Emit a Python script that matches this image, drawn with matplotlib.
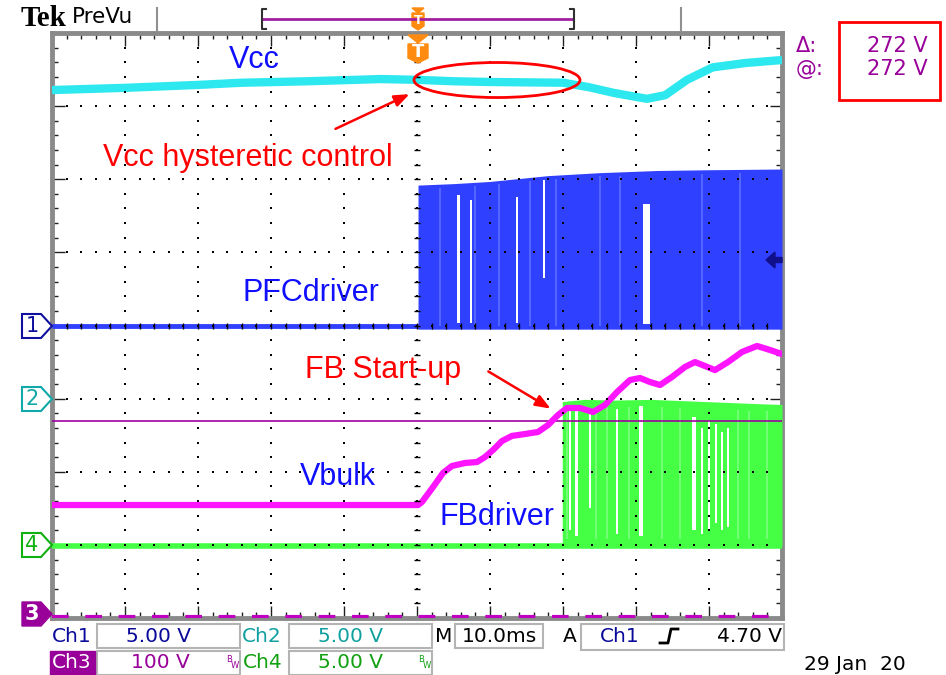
import matplotlib
matplotlib.use("Agg")
import matplotlib.pyplot as plt
from matplotlib.patches import Ellipse, Polygon, Rectangle
from matplotlib.lines import Line2D
import numpy as np

# ---------------- data (screen divisions: x 0..10, y 0..8) ----------------
vcc_t = [0.0, 1.0, 2.0, 2.6, 3.5, 4.5, 5.0, 5.5, 6.0, 7.0, 7.35, 7.7, 8.15, 8.4, 8.7, 9.05, 9.5, 10.0]
vcc_v = [7.22, 7.25, 7.29, 7.32, 7.34, 7.37, 7.36, 7.34, 7.33, 7.32, 7.26, 7.18, 7.10, 7.15, 7.36, 7.53, 7.59, 7.63]

pfc_base = 4.0
pfc_t = [5.014, 5.5, 6.0, 6.8, 7.5, 8.3, 9.0, 10.0]
pfc_top = [5.92, 5.94, 5.97, 6.05, 6.09, 6.12, 6.13, 6.14]
# gaps: centre, width, top, bottom
pfc_gap_x = [5.57, 5.74, 6.365, 6.735, 8.14]
pfc_gap_w = [0.035, 0.035, 0.025, 0.025, 0.09]
pfc_gap_top = [5.78, 5.72, 5.76, 5.99, 5.66]
pfc_gap_bot = [4.04, 4.04, 4.04, 4.65, 4.02]
pfc_streaks = [5.31, 5.79, 6.13, 6.55, 6.9, 7.5, 7.78, 8.9, 9.43]

vbulk_t = [0.0, 5.014, 5.068, 5.219, 5.356, 5.479, 5.658, 5.822, 5.93, 6.041, 6.164, 6.30,
           6.479, 6.658, 6.795, 6.932, 7.055, 7.233, 7.411, 7.575, 7.74, 7.918, 8.055,
           8.192, 8.329, 8.493, 8.671, 8.808, 8.945, 9.082, 9.26, 9.452, 9.658, 9.836, 10.0]
vbulk_v = [1.545, 1.545, 1.586, 1.79, 1.983, 2.079, 2.12, 2.133, 2.20, 2.297, 2.42, 2.49,
           2.516, 2.544, 2.639, 2.776, 2.872, 2.872, 2.817, 2.913, 3.09, 3.255, 3.282,
           3.227, 3.186, 3.296, 3.433, 3.50, 3.446, 3.39, 3.50, 3.638, 3.72, 3.665, 3.61]
vbulk_level = 2.694

fb_base = 0.985
fb_t = [6.99, 7.3, 7.7, 8.2, 8.7, 9.2, 9.7, 10.0]
fb_top = [2.96, 2.99, 2.98, 2.99, 2.97, 2.95, 2.93, 2.92]
fb_gap_x = [7.096, 7.19, 7.37, 7.74, 8.07, 8.795, 8.90, 9.0, 9.096, 9.18, 9.26]
fb_gap_w = [0.03, 0.04, 0.03, 0.03, 0.06, 0.05, 0.03, 0.03, 0.03, 0.02, 0.02]
fb_gap_top = [2.85, 2.88, 2.80, 2.86, 2.90, 2.75, 2.60, 2.70, 2.65, 2.55, 2.60]
fb_gap_bot = [1.20, 1.12, 1.50, 1.15, 1.12, 1.20, 1.15, 1.20, 1.30, 1.20, 1.25]
fb_streaks = [7.05, 7.45, 7.6, 7.9, 8.35, 8.6, 9.4, 9.55, 9.8]

ch3_level = 0.02

# ---------------- figure ----------------
W, H = 946, 675
fig = plt.figure(figsize=(W / 100, H / 100), dpi=100)
fig.patch.set_facecolor("white")


def fx(x):
    return x / W


def fy(y):
    return 1 - y / H


L, R, T, B = 52, 782, 33, 618
ax = fig.add_axes([fx(L), fy(B), (R - L) / W, (B - T) / H])
ax.set_xlim(0, 10)
ax.set_ylim(0, 8)
ax.set_facecolor("white")

CYAN = "#2de8ef"
BLUE = "#3040ff"
MAG = "#ff14ff"
GREEN = "#45ff45"
RED = "#ff0000"
TXTBLUE = "#1010ff"

# traces
ax.plot(vcc_t, vcc_v, color=CYAN, lw=6, solid_capstyle="butt", zorder=3)

ax.plot([0, 10], [pfc_base, pfc_base], color=BLUE, lw=3.5, solid_capstyle="butt", zorder=3)
ax.fill_between(pfc_t, pfc_base - 0.05, pfc_top, color=BLUE, lw=0, zorder=3)
ax.vlines(pfc_streaks, pfc_base, [np.interp(s, pfc_t, pfc_top) - 0.05 for s in pfc_streaks],
          color="#5868ff", lw=1.3, zorder=3)
ax.bar(pfc_gap_x, [t - b for t, b in zip(pfc_gap_top, pfc_gap_bot)], width=pfc_gap_w,
       bottom=pfc_gap_bot, color="white", lw=0, zorder=3)

ax.plot([0, 10], [vbulk_level, vbulk_level], color="#a000a0", lw=1.2, zorder=4)

ax.plot([0, 10], [fb_base, fb_base], color=GREEN, lw=4, solid_capstyle="butt", zorder=3)
ax.fill_between(fb_t, fb_base, fb_top, color=GREEN, lw=0, zorder=3)
ax.vlines(fb_streaks, fb_base + 0.1, [np.interp(s, fb_t, fb_top) - 0.1 for s in fb_streaks],
          color="#7dff7d", lw=1.2, zorder=3)
ax.bar(fb_gap_x, [t - b for t, b in zip(fb_gap_top, fb_gap_bot)], width=fb_gap_w,
       bottom=fb_gap_bot, color="white", lw=0, zorder=3)

ax.plot(vbulk_t, vbulk_v, color=MAG, lw=4.5, zorder=4)

ax.plot([0, 10], [ch3_level, ch3_level], color="#c000c0", lw=3, dashes=(4, 4), zorder=4)

# graticule dots
gx, gy = [], []
for i in range(1, 10):
    for j in range(1, 40):
        gx.append(i); gy.append(j * 0.2)
for k in range(1, 8):
    for m in range(1, 50):
        gx.append(m * 0.2); gy.append(k)
ax.scatter(gx, gy, s=3, c="black", marker="s", linewidths=0, zorder=6)
ax.scatter([5] * 39, [j * 0.2 for j in range(1, 40)], s=18, c="black", marker="_", linewidths=1, zorder=6)
ax.scatter([m * 0.2 for m in range(1, 50)], [4] * 49, s=18, c="black", marker="|", linewidths=1, zorder=6)

# border ruler
ax.set_xticks(range(0, 11))
ax.set_yticks(range(0, 9))
ax.set_xticks(np.arange(0, 10.01, 0.2), minor=True)
ax.set_yticks(np.arange(0, 8.01, 0.2), minor=True)
ax.tick_params(which="both", direction="in", top=True, right=True, labelbottom=False,
               labelleft=False, color="#202020", width=1)
ax.tick_params(which="major", length=9)
ax.tick_params(which="minor", length=4)
for s in ax.spines.values():
    s.set_color("#8a8a8a")
    s.set_linewidth(3.5)

# annotations
af = "Liberation Sans"
ax.text(2.767, 7.63, "Vcc", color=TXTBLUE, fontsize=22, family=af, ha="center", va="center", zorder=10)
ax.text(0.699, 6.29, "Vcc hysteretic control", color=RED, fontsize=22, family=af, va="center", zorder=10)
ax.text(2.616, 4.444, "PFCdriver", color=TXTBLUE, fontsize=22, family=af, va="center", zorder=10)
ax.text(3.466, 3.391, "FB Start-up", color=RED, fontsize=22, family=af, va="center", zorder=10)
ax.text(3.397, 1.928, "Vbulk", color=TXTBLUE, fontsize=22, family=af, va="center", zorder=10)
ax.text(5.315, 1.381, "FBdriver", color=TXTBLUE, fontsize=22, family=af, va="center", zorder=10)

ax.add_patch(Ellipse((6.096, 7.357), 2.274, 0.479, fill=False, ec=RED, lw=2, zorder=10))
ax.annotate("", xy=(4.932, 7.18), xytext=(3.849, 6.673),
            arrowprops=dict(arrowstyle="-|>,head_length=0.9,head_width=0.35", color=RED, lw=1.8),
            zorder=10)
ax.annotate("", xy=(6.863, 2.844), xytext=(5.945, 3.391),
            arrowprops=dict(arrowstyle="-|>,head_length=0.9,head_width=0.35", color=RED, lw=1.8),
            zorder=10)


# ---------------- screen furniture (figure pixel coords) ----------------
def poly(pts, **kw):
    fig.add_artist(Polygon([(fx(x), fy(y)) for x, y in pts], closed=True,
                           transform=fig.transFigure, **kw))


def line(xs, ys, **kw):
    fig.add_artist(Line2D([fx(x) for x in xs], [fy(y) for y in ys], transform=fig.transFigure, **kw))


def rect(x0, y0, x1, y1, **kw):
    fig.add_artist(Rectangle((fx(x0), fy(y1)), (x1 - x0) / W, (y1 - y0) / H,
                             transform=fig.transFigure, **kw))


def txt(x, y, s, **kw):
    kw.setdefault("family", "DejaVu Sans")
    kw.setdefault("va", "center")
    fig.text(fx(x), fy(y), s, **kw)


# header
txt(21, 18, "Tek", fontsize=21, weight="bold", family="Liberation Serif")
txt(72, 17, "PreVu", fontsize=15.5)
line([157, 157], [8, 31], color="#909090", lw=1.5)
line([681, 681], [8, 31], color="#909090", lw=1.5)
line([263, 573], [19, 19], color="#a020a0", lw=2)
line([266, 262, 262, 266], [9, 9, 29, 29], color="#303030", lw=1.5)
line([570, 574, 574, 570], [9, 9, 29, 29], color="#303030", lw=1.5)
ORANGE = "#ff8c10"
poly([(412, 8), (424, 8), (418, 13)], color=ORANGE)
poly([(412, 13), (424, 13), (424, 26), (418, 30), (412, 26)], color=ORANGE)
txt(418, 20, "T", fontsize=9, weight="bold", color="white", ha="center")
poly([(408, 35), (428, 35), (418, 43)], color=ORANGE)
poly([(408, 44), (428, 44), (428, 58), (418, 63), (408, 58)], color=ORANGE)
txt(418, 52, "T", fontsize=13, weight="bold", color="white", ha="center")

# trigger level arrow
poly([(766, 260), (775, 252), (775, 257.5), (782, 257.5), (782, 262.5), (775, 262.5), (775, 268)],
     color="#10108a")

# channel markers
def chan_marker(y, color, label, filled=False):
    pts = [(22, y - 12), (41, y - 12), (52, y), (41, y + 12), (22, y + 12)]
    if filled:
        poly(pts, color=color)
        txt(32, y, label, fontsize=15, color="white", ha="center", weight="bold")
    else:
        poly(pts, fill=True, fc="white", ec=color, lw=1.5)
        txt(32, y, label, fontsize=15, color=color, ha="center")


chan_marker(326, "#1010a0", "1")
chan_marker(399, "#10a8a8", "2")
chan_marker(545, "#10b010", "4")
chan_marker(614, "#990099", "3", filled=True)

# cursor readout
PURP = "#990099"
txt(796, 46, "\u0394:", fontsize=15, color=PURP)
txt(796, 69, "@:", fontsize=15, color=PURP)
txt(928, 46, "272 V", fontsize=15, color=PURP, ha="right")
txt(928, 69, "272 V", fontsize=15, color=PURP, ha="right")
rect(839, 22, 940, 100, fill=False, ec=RED, lw=2)

# status bar
BOX = "#b4b4b4"
FS = 14.5
for (x0, x1) in [(97, 240), (289, 432), (455, 543)]:
    rect(x0, 624, x1, 648, fill=False, ec=BOX, lw=1.5)
rect(581, 624, 784, 650, fill=False, ec=BOX, lw=1.5)
for (x0, x1) in [(97, 240), (289, 432)]:
    rect(x0, 651, x1, 675, fill=False, ec=BOX, lw=1.5)

txt(52, 636, "Ch1", fontsize=FS, color="#0a0a9a")
txt(158, 636, "5.00 V", fontsize=FS, color="#0a0a9a", ha="center")
txt(242, 636, "Ch2", fontsize=FS, color="#10a0a0")
txt(351, 636, "5.00 V", fontsize=FS, color="#10a0a0", ha="center")
txt(435, 636, "M", fontsize=FS, color="black")
txt(499, 636, "10.0ms", fontsize=FS, color="black", ha="center")
txt(563, 636, "A", fontsize=FS, color="black")
txt(600, 636, "Ch1", fontsize=FS, color="#0a0a9a")
line([660, 668, 671, 678], [643, 643, 629, 629], color="black", lw=2)
txt(782, 636, "4.70 V", fontsize=FS, color="black", ha="right")

rect(50, 651, 95, 675, color=PURP)
txt(52, 663, "Ch3", fontsize=FS, color="white")
txt(160, 663, "100 V", fontsize=FS, color=PURP, ha="center")
txt(226, 659, "B", fontsize=6, color=PURP)
txt(231, 666, "W", fontsize=6, color=PURP)
txt(243, 663, "Ch4", fontsize=FS, color="#10a010")
txt(351, 663, "5.00 V", fontsize=FS, color="#10a010", ha="center")
txt(418, 659, "B", fontsize=6, color="#10a010")
txt(423, 666, "W", fontsize=6, color="#10a010")
txt(804, 665, "29 Jan  20", fontsize=14.5, color="black")

fig.savefig("out.png", dpi=100, facecolor="white")
